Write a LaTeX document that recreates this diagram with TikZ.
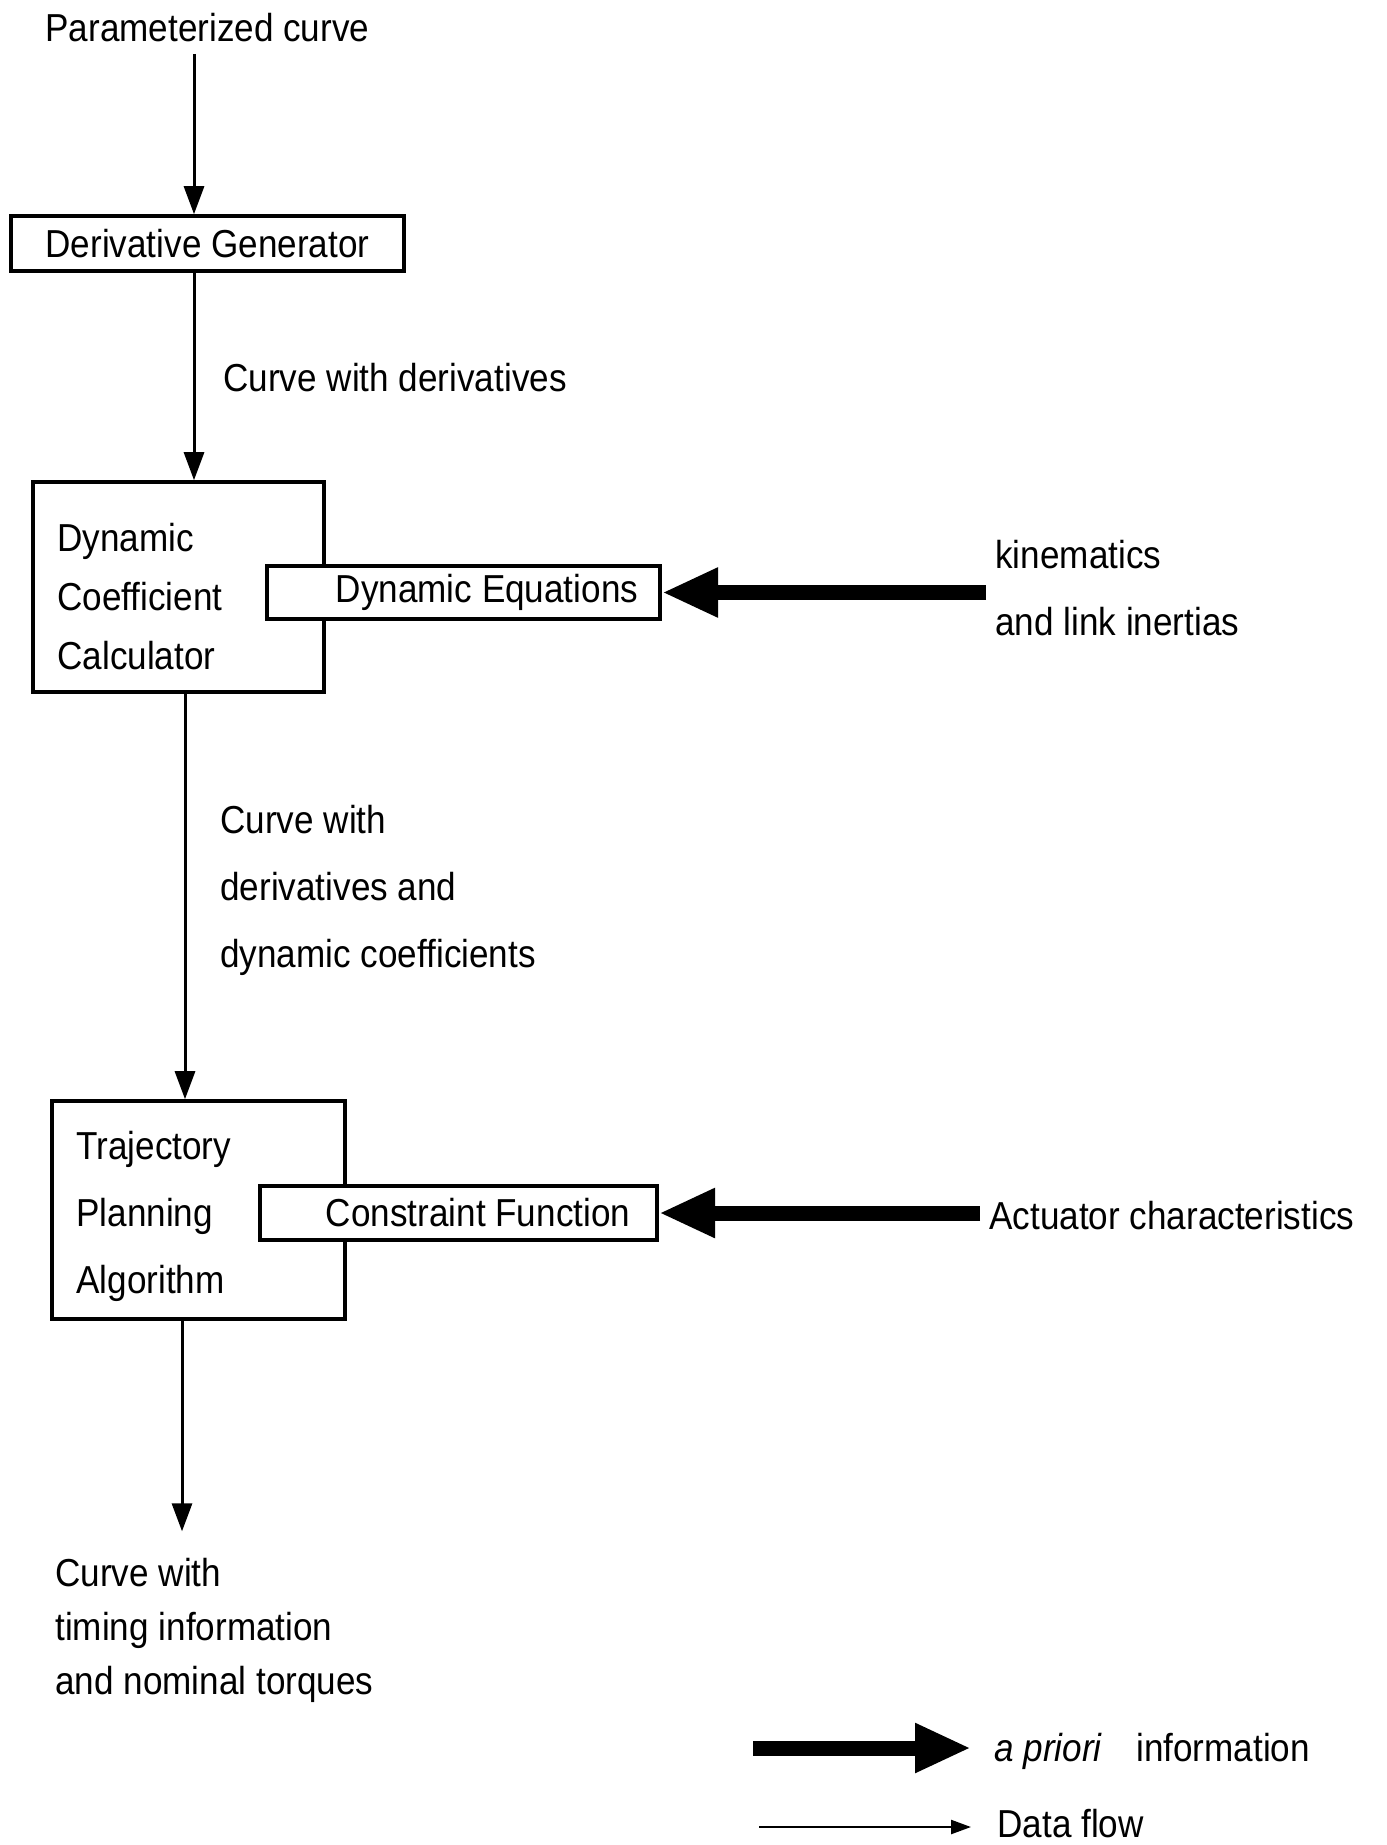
\documentclass[tikz,border=0pt]{standalone}
\usepackage{fontspec}
\setmainfont{Liberation Sans}[FakeStretch=0.9]
\usetikzlibrary{arrows.meta}

\begin{document}
\begin{tikzpicture}[x=0.5pt,y=-0.5pt,
  fnt/.style={font=\fontsize{19.5pt}{33.5pt}\selectfont},
  lbl/.style={fnt, inner sep=0pt},
  blk/.style={draw, line width=1.8pt, fill=white, inner sep=0pt},
  flow/.style={line width=1.5pt, -{Triangle[length=14pt,width=10pt]}},
  thinflow/.style={line width=1.2pt, -{Triangle[length=10pt,width=7pt]}},
  prior/.style={line width=7.5pt, -{Triangle[length=28pt,width=23pt]}},
]
\useasboundingbox (0,0) rectangle (1386,1845);

% x positions of the vertical data-flow lines
\coordinate (ax1) at (194,0);
\coordinate (ax2) at (185,0);
\coordinate (ax3) at (182,0);

% input
\node[lbl, anchor=base west] (pc) at (45,42) {Parameterized curve};

% derivative generator
\node[blk, fnt, minimum width=196.5pt, minimum height=27.5pt] (dg) at (207.5,243.5) {Derivative Generator};

\node[lbl, anchor=base west] (cwd) at (223,392) {Curve with derivatives};

% dynamic coefficient calculator with its equations block
% (multi-line labels are placed by the baseline of their last line)
\node[blk, minimum width=145.5pt, minimum height=105pt] (dcc) at (178.5,587) {};
\node[lbl, anchor=base west, align=left, font=\fontsize{19.5pt}{29.5pt}\selectfont] (dcct) at (57,669) {Dynamic\\Coefficient\\Calculator};
\node[blk, fnt, anchor=east, text width=174.5pt, align=flush right, inner xsep=11pt, minimum height=26.5pt] (de) at (662,592.5) {Dynamic Equations};
\node[lbl, anchor=base west, align=left, inner xsep=4.5pt] (kin) at (986,635) {kinematics\\and link inertias};

\node[lbl, anchor=base west, align=left] (cwdc) at (220,967) {Curve with\\derivatives and\\dynamic coefficients};

% trajectory planning algorithm with its constraint block
\node[blk, minimum width=146.5pt, minimum height=109pt] (tpa) at (198.5,1210) {};
\node[lbl, anchor=base west, align=left] (tpat) at (76,1293) {Trajectory\\Planning\\Algorithm};
\node[blk, fnt, anchor=east, text width=171.5pt, align=flush right, inner xsep=13.5pt, minimum height=27pt] (cf) at (659,1213) {Constraint Function};
\node[lbl, anchor=base west, inner xsep=4.5pt] (act) at (980,1229) {Actuator characteristics};

% output
\node[lbl, anchor=base west, align=left, font=\fontsize{19.5pt}{27pt}\selectfont] (out) at (55,1694) {Curve with\\timing information\\and nominal torques};

% data flow
\draw[flow, shorten <=5.5pt] (pc.south -| ax1) -- (dg.north -| ax1);
\draw[flow] (dg.south -| ax1) -- (dcc.north -| ax1);
\draw[flow] (dcc.south -| ax2) -- (tpa.north -| ax2);
\draw[flow, shorten >=13pt] (tpa.south -| ax3) -- (out.north -| ax3);

% a priori information
\draw[prior] (kin.west |- de.east) -- (de.east);
\draw[prior] (act.west |- cf.east) -- (cf.east);

% legend
\coordinate (lg1s) at (753,1748);
\coordinate (lg2s) at (759,1827);
\node[lbl, anchor=base west, inner xsep=11.5pt] (lg1) at (971,1761) {\textit{a priori}\hspace{12pt} information};
\node[lbl, anchor=base west, inner xsep=13pt] (lg2) at (971,1837) {Data flow};
\draw[prior] (lg1s) -- (lg1.west |- lg1s);
\draw[thinflow] (lg2s) -- (lg2.west |- lg2s);
\end{tikzpicture}
\end{document}
